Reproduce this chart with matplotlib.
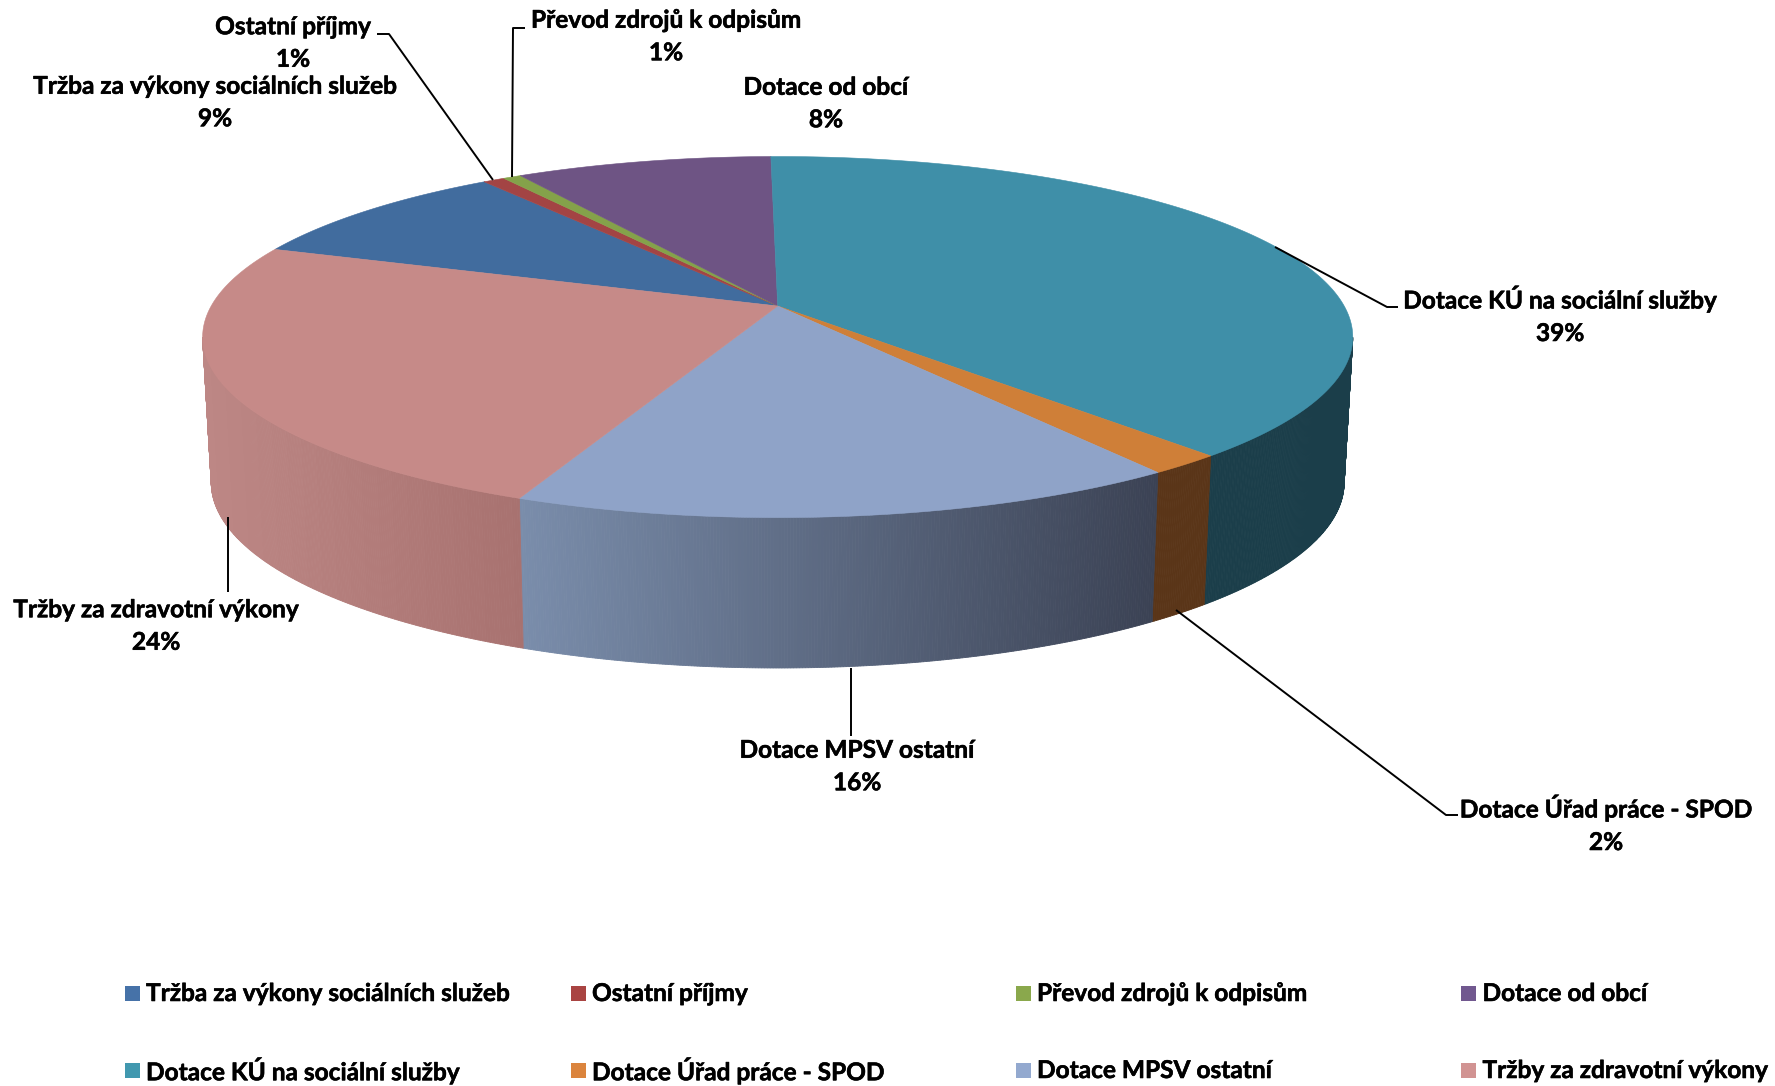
import numpy as np
import matplotlib
matplotlib.use("Agg")
import matplotlib.pyplot as plt
import matplotlib.patheffects as pe
from matplotlib.patches import Rectangle

# Series in the order of the legend, share of the pie in percent
categories = ["Tržba za výkony sociálních služeb", "Ostatní příjmy", "Převod zdrojů k odpisům", "Dotace od obcí",
              "Dotace KÚ na sociální služby", "Dotace Úřad práce - SPOD", "Dotace MPSV ostatní", "Tržby za zdravotní výkony"]
values = [9.4, 0.72, 0.6, 8.5, 38.62, 1.82, 16.05, 24.29]

top_colors = ["#416c9e", "#a34444", "#84a24a", "#6e5484", "#3f8fa8", "#cf7f38", "#8fa3c8", "#c68a88"]
legend_colors = ["#4672a8", "#a94442", "#8aa84c", "#71588f", "#4198af", "#db843d", "#93a9cf", "#d19392"]
wall_left = ["#35587f", "#803535", "#697f3a", "#57426a", "#1b3e4a", "#5a3518", "#7a8dab", "#bd8785"]
wall_right = ["#35587f", "#803535", "#697f3a", "#57426a", "#1b3e4a", "#5a3518", "#3b4254", "#a87270"]

first_angle = 290.0
FONT = "Lato"
FS = 17.6
bold = [pe.withStroke(linewidth=0.4, foreground="black")]

# top disc and bottom rim of the pie, seen in perspective
cx = 777.7
persp = 0.172
top_y, top_a, top_b = 306, 566.5, 175.2
bot_y, bot_a, bot_b = 450.6, 558.0, 180.0


def project(angle, y0, a, b):
    t = np.radians(angle)
    u, v = np.sin(t), np.cos(t)
    w = 1 + persp * v
    return cx + a * u / w, y0 - b * v / w


fig = plt.figure(figsize=(17.75, 10.86), dpi=100)
ax = fig.add_axes([0, 0, 1, 1])
ax.set_xlim(0, 1775)
ax.set_ylim(1086, 0)
ax.axis("off")

edges = first_angle + np.cumsum([0] + values) * 3.6
wall_from = 180 - np.degrees(np.arccos(persp))
wall_to = 180 + np.degrees(np.arccos(persp))

# Side wall, cut in small strips so the shading can change along it
for i in range(len(values)):
    for shift in (0, -360):
        start = max(edges[i] + shift, wall_from)
        stop = min(edges[i + 1] + shift, wall_to)
        if start >= stop:
            continue
        c0 = np.array(matplotlib.colors.to_rgb(wall_left[i]))
        c1 = np.array(matplotlib.colors.to_rgb(wall_right[i]))
        x_right = project(start, top_y, top_a, top_b)[0]
        x_left = project(stop, top_y, top_a, top_b)[0]
        steps = np.linspace(start, stop, max(2, int((stop - start) * 4) + 2))
        for s0, s1 in zip(steps[:-1], steps[1:]):
            x0, y0 = project(np.array([s0, s1]), top_y, top_a, top_b)
            x1, y1 = project(np.array([s1, s0]), bot_y, bot_a, bot_b)
            frac = (x0.mean() - x_left) / (x_right - x_left)
            col = c0 + (c1 - c0) * frac
            ax.fill(np.r_[x0, x1], np.r_[y0, y1], color=col, lw=0.6, zorder=1)

# Top of the pie
for i in range(len(values)):
    arc = np.linspace(edges[i], edges[i + 1], 200)
    x, y = project(arc, top_y, top_a, top_b)
    ax.fill(np.r_[cx, x], np.r_[top_y, y], color=top_colors[i], lw=0.4, zorder=2)

# Data labels
label_x = [215, 293, 666, 826, 1560, 1606, 857, 156]
label_y = [102.5, 43, 36.5, 103.5, 315, 824, 766.5, 626]
for i in range(len(values)):
    ax.text(label_x[i], label_y[i], "%s\n%d%%" % (categories[i], round(values[i])), ha="center", va="center",
            family=FONT, weight="bold", fontsize=FS, linespacing=1.5, color="black", zorder=4, path_effects=bold)

# Leader lines
leaders = [
    [(377, 34), (389, 34), (493, 180)],
    [(525, 28), (513, 28), (512, 177)],
    [(1275, 247), (1387, 307), (1398, 307)],
    [(1176, 610), (1446, 815), (1458, 815)],
    [(851, 668), (851, 736)],
    [(228, 517), (228, 592)],
]
for line in leaders:
    xs, ys = zip(*line)
    ax.plot(xs, ys, color="black", lw=1.4, zorder=3, solid_capstyle="butt")

# Legend
leg_x = [124.5, 570.5, 1015.5, 1461]
leg_y = [986, 1063]
for i in range(len(categories)):
    col = i % 4
    row = i // 4
    ax.add_patch(Rectangle((leg_x[col], leg_y[row]), 15, 15, color=legend_colors[i], lw=0))
    ax.text(leg_x[col] + 21.5, leg_y[row] + 7.5, categories[i], ha="left", va="center",
            family=FONT, weight="bold", fontsize=FS, color="black", path_effects=bold)

fig.savefig("out.png", dpi=100)
